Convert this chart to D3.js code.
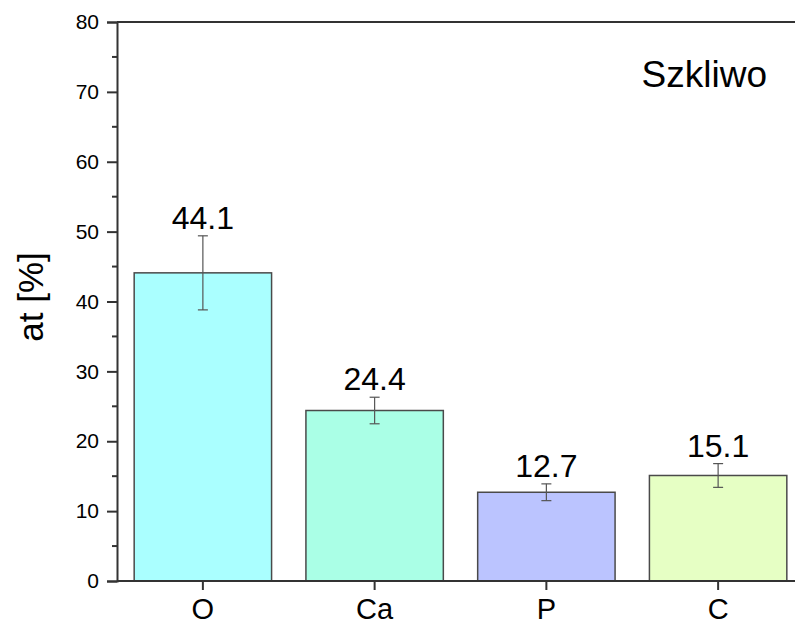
<!DOCTYPE html>
<html>
<head>
<meta charset="utf-8">
<script src="https://cdn.jsdelivr.net/npm/d3@7"></script>
<style>
  html, body { margin: 0; padding: 0; background: #fff; }
  svg { display: block; font-family: "Liberation Sans", Arial, sans-serif; }
</style>
</head>
<body>
<svg id="chart" width="795" height="626"></svg>
<script>
// Element composition of enamel (at %), mean and standard deviation
const categories = ["O", "Ca", "P", "C"];
const values = [44.1, 24.4, 12.7, 15.1];
const errors = [5.3, 1.9, 1.2, 1.7];
const barColors = ["#aaffff", "#aaffe6", "#bbc4ff", "#e6ffc4"];
const yTicks = [0, 10, 20, 30, 40, 50, 60, 70, 80];
const yMinorTicks = [5, 15, 25, 35, 45, 55, 65, 75];
const yTitle = "at [%]";
const panelLabel = "Szkliwo";

const svg = d3.select("#chart");
const margin = { left: 117, top: 22 };
const plotW = 687, plotH = 559;

const g = svg.append("g").attr("transform", `translate(${margin.left},${margin.top})`);

const x = d3.scaleBand().domain(categories).range([0, plotW]).paddingInner(0.2).paddingOuter(0.1);
const y = d3.scaleLinear().domain([0, 80]).range([plotH, 0]);

// Bars
g.selectAll("rect.bar")
  .data(categories)
  .join("rect")
  .attr("class", "bar")
  .attr("x", d => x(d))
  .attr("y", (d, i) => y(values[i]))
  .attr("width", x.bandwidth())
  .attr("height", (d, i) => y(0) - y(values[i]))
  .attr("fill", (d, i) => barColors[i])
  .attr("stroke", "#4a4a4a")
  .attr("stroke-width", 1.5);

// Error bars
const eb = g.selectAll("g.err").data(categories).join("g").attr("class", "err")
  .attr("stroke", "#555").attr("stroke-width", 1.2);
const cx = d => x(d) + x.bandwidth() / 2;
eb.append("line")
  .attr("x1", d => cx(d)).attr("x2", d => cx(d))
  .attr("y1", (d, i) => y(values[i] + errors[i]))
  .attr("y2", (d, i) => y(values[i] - errors[i]));
[1, -1].forEach(s => {
  eb.append("line")
    .attr("x1", d => cx(d) - 5).attr("x2", d => cx(d) + 5)
    .attr("y1", (d, i) => y(values[i] + s * errors[i]))
    .attr("y2", (d, i) => y(values[i] + s * errors[i]));
});

// Value labels
g.selectAll("text.val").data(categories).join("text")
  .attr("class", "val")
  .attr("x", d => cx(d))
  .attr("y", (d, i) => y(values[i] + errors[i]) - 7)
  .attr("text-anchor", "middle")
  .attr("font-size", 32)
  .attr("fill", "#000")
  .text((d, i) => values[i].toFixed(1));

// Frame top line
g.append("line")
  .attr("x1", 0).attr("x2", plotW).attr("y1", 0).attr("y2", 0)
  .attr("stroke", "#333").attr("stroke-width", 2);

// Y axis
const yAxis = g.append("g")
  .call(d3.axisLeft(y).tickValues(yTicks).tickSize(10).tickPadding(8).tickFormat(d3.format("d")));
yAxis.attr("font-size", 21).attr("font-family", "Liberation Sans, Arial, sans-serif");
yAxis.select(".domain").attr("stroke", "#333").attr("stroke-width", 2);
yAxis.selectAll(".tick line").attr("stroke", "#333").attr("stroke-width", 2);
yAxis.selectAll(".tick text").attr("fill", "#000");

g.selectAll("line.minor").data(yMinorTicks).join("line")
  .attr("class", "minor")
  .attr("x1", -5).attr("x2", 0)
  .attr("y1", d => y(d)).attr("y2", d => y(d))
  .attr("stroke", "#333").attr("stroke-width", 2);

// X axis
const xAxis = g.append("g").attr("transform", `translate(0,${plotH})`)
  .call(d3.axisBottom(x).tickSize(9).tickPadding(8));
xAxis.attr("font-size", 29).attr("font-family", "Liberation Sans, Arial, sans-serif");
xAxis.select(".domain").attr("d", `M0,0H${plotW}`).attr("stroke", "#333").attr("stroke-width", 2);
xAxis.selectAll(".tick line").attr("stroke", "#333").attr("stroke-width", 2);
xAxis.selectAll(".tick text").attr("fill", "#000")
  .attr("dy", null).attr("y", 38);

// Y axis title
svg.append("text")
  .attr("transform", "translate(43,297) rotate(-90)")
  .attr("text-anchor", "middle")
  .attr("font-size", 35)
  .attr("fill", "#000")
  .text(yTitle);

// Panel label
svg.append("text")
  .attr("x", 767).attr("y", 87)
  .attr("text-anchor", "end")
  .attr("font-size", 37)
  .attr("fill", "#000")
  .text(panelLabel);
</script>
</body>
</html>
